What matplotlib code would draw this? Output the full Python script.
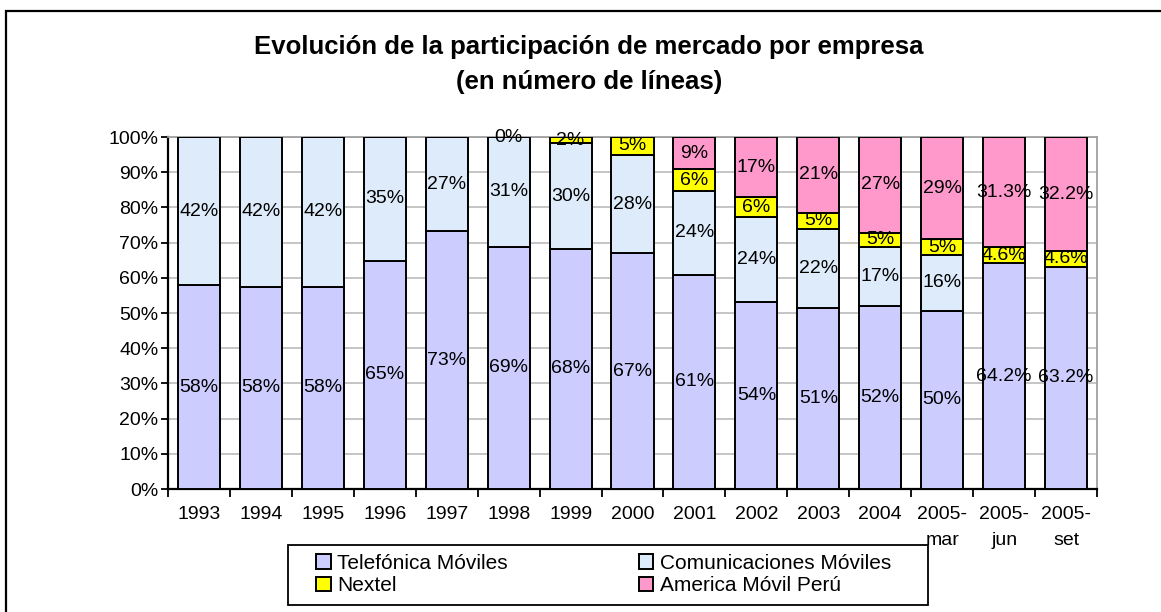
import numpy as np
import matplotlib.pyplot as plt
from matplotlib.patches import Rectangle

plt.rcParams['font.family'] = ['Liberation Sans', 'DejaVu Sans']

periods = ["1993", "1994", "1995", "1996", "1997", "1998", "1999", "2000", "2001",
           "2002", "2003", "2004", "2005-\nmar", "2005-\njun", "2005-\nset"]

# bar heights (%)
telefonica = [57.9, 57.4, 57.4, 64.8, 73.2, 68.8, 68.2, 67.0, 60.8, 53.2, 51.5, 52.1, 50.6, 64.1, 63.1]
comunicaciones = [42.1, 42.6, 42.6, 35.2, 26.8, 31.2, 30.0, 27.9, 23.9, 24.0, 22.4, 16.7, 15.9, 0, 0]
nextel = [0, 0, 0, 0, 0, 0, 1.8, 5.1, 6.1, 5.7, 4.6, 4.0, 4.4, 4.6, 4.6]
america = [0, 0, 0, 0, 0, 0, 0, 0, 9.2, 17.1, 21.5, 27.2, 29.1, 31.3, 32.2]

# data labels as printed on the chart
telefonica_lbl = ["58%", "58%", "58%", "65%", "73%", "69%", "68%", "67%", "61%", "54%", "51%", "52%", "50%", "64.2%", "63.2%"]
comunicaciones_lbl = ["42%", "42%", "42%", "35%", "27%", "31%", "30%", "28%", "24%", "24%", "22%", "17%", "16%", "", ""]
nextel_lbl = ["", "", "", "", "", "0%", "2%", "5%", "6%", "6%", "5%", "5%", "5%", "4.6%", "4.6%"]
america_lbl = ["", "", "", "", "", "", "", "", "9%", "17%", "21%", "27%", "29%", "31.3%", "32.2%"]

series = [
    ("Telefónica Móviles", telefonica, telefonica_lbl, "#CCCCFF"),
    ("Comunicaciones Móviles", comunicaciones, comunicaciones_lbl, "#DDEBFA"),
    ("Nextel", nextel, nextel_lbl, "#FFFF00"),
    ("America Móvil Perú", america, america_lbl, "#FF99CC"),
]

W, H = 1161, 612
fig = plt.figure(figsize=(W / 100, H / 100), dpi=100)
ax = fig.add_axes([168 / W, 1 - 489 / H, (1097 - 168) / W, (489 - 137) / H])

# outer chart frame (runs off the right and bottom edges)
fig.patches.append(Rectangle((6 / W, -0.2), 1.2, 1.2 - 11 / H, transform=fig.transFigure,
                             fill=False, edgecolor="black", linewidth=1.6))

x = np.arange(len(periods))
bottom = np.zeros(len(periods))
handles = {}
for name, vals, lbls, color in series:
    vals = np.array(vals, dtype=float)
    bars = ax.bar(x, vals, width=0.68, bottom=bottom, color=color, edgecolor="black",
                  linewidth=1.4, zorder=3, label=name)
    handles[name] = bars
    for xi, b, v, s in zip(x, bottom, vals, lbls):
        if s:
            ax.text(xi, b + v / 2, s, ha="center", va="center", fontsize=14, zorder=5)
    bottom += vals

ax.set_xlim(-0.5, len(periods) - 0.5)
ax.set_ylim(0, 100)
ax.set_yticks(np.arange(0, 101, 10))
ax.set_yticklabels(["%d%%" % v for v in range(0, 101, 10)], fontsize=14)
ax.yaxis.grid(True, color="#C0C0C0", linewidth=1.3, zorder=0)
ax.tick_params(axis="y", direction="out", length=5, width=1.3, pad=2)

ax.set_xticks(x)
ax.set_xticklabels(periods, fontsize=14, linespacing=1.75, va="top")
ax.set_xticks(np.arange(-0.5, len(periods), 1), minor=True)
ax.tick_params(axis="x", which="major", length=0, pad=12)
ax.tick_params(axis="x", which="minor", direction="out", length=6, width=1.3)

for side in ["left", "bottom"]:
    ax.spines[side].set_color("black")
    ax.spines[side].set_linewidth(1.6)
for side in ["top", "right"]:
    ax.spines[side].set_color("#A0A0A0")
    ax.spines[side].set_linewidth(1.3)

fig.text(0.507, 1 - 47 / H, "Evolución de la participación de mercado por empresa",
         ha="center", va="center", fontsize=18.5, fontweight="bold")
fig.text(0.507, 1 - 82 / H, "(en número de líneas)",
         ha="center", va="center", fontsize=18.5, fontweight="bold")

# legend box drawn separately so the padding can match
fig.patches.append(Rectangle((288 / W, 1 - 605 / H), (928 - 288) / W, 60 / H,
                             transform=fig.transFigure, fill=False,
                             edgecolor="black", linewidth=1.3))
order = ["Telefónica Móviles", "Nextel", "Comunicaciones Móviles", "America Móvil Perú"]
leg = fig.legend([handles[n] for n in order], order, ncol=2, fontsize=15,
                 loc="upper left", bbox_to_anchor=(316 / W, 1 - 554 / H),
                 frameon=False, handlelength=0.7, handleheight=0.7,
                 handletextpad=0.3, columnspacing=6.3, labelspacing=0.15,
                 borderpad=0, borderaxespad=0)

fig.savefig("out.png", dpi=100)
